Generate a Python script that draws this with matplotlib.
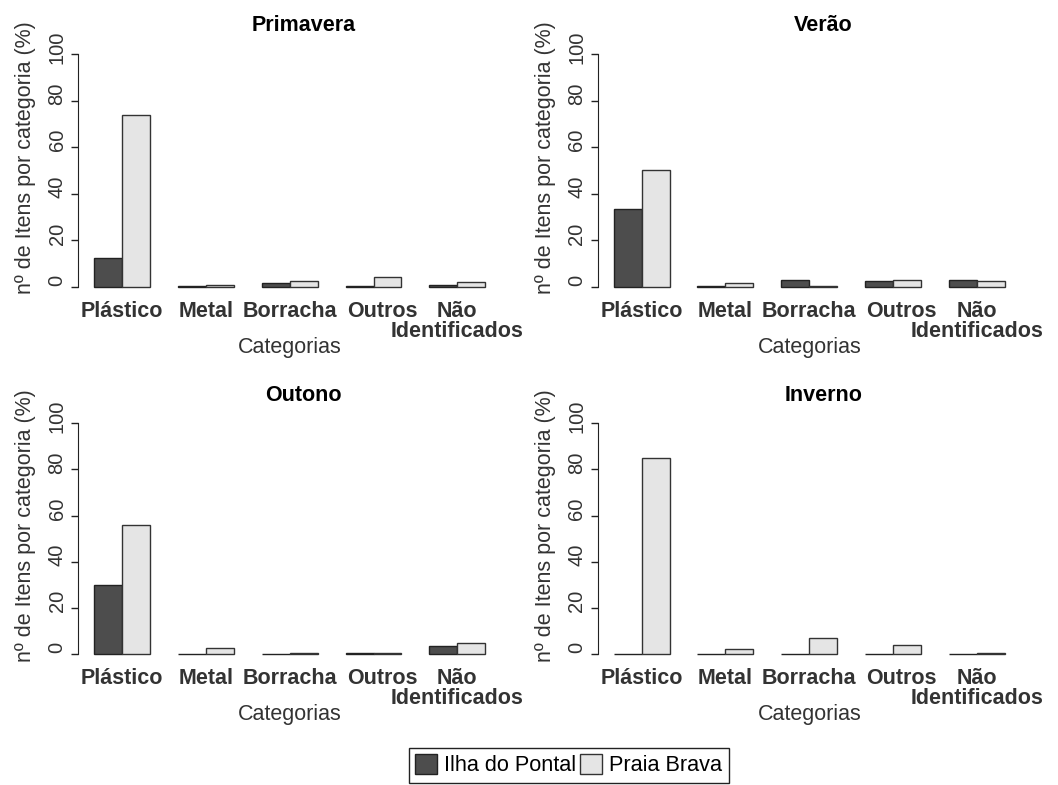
import matplotlib
matplotlib.use("Agg")
import matplotlib.pyplot as plt
import matplotlib.transforms as mtransforms
import numpy as np

plt.rcParams['font.family'] = ['Liberation Sans', 'DejaVu Sans']

categorias = ["Plástico", "Metal", "Borracha", "Outros", "Não\nIdentificados"]
estacoes = ["Primavera", "Verão", "Outono", "Inverno"]
# % de itens por categoria
ilha_primavera = [12.3, 0.3, 1.9, 0.3, 0.7]
brava_primavera = [73.7, 0.7, 2.7, 4.4, 2.2]
ilha_verao = [33.3, 0.6, 2.9, 2.4, 2.9]
brava_verao = [50.4, 1.7, 0.3, 2.9, 2.4]
ilha_outono = [29.9, 0.0, 0.0, 0.6, 3.5]
brava_outono = [56.0, 2.7, 0.7, 0.6, 4.8]
ilha_inverno = [0.0, 0.0, 0.0, 0.0, 0.0]
brava_inverno = [85.1, 2.2, 7.2, 4.0, 0.6]

ilha = [ilha_primavera, ilha_verao, ilha_outono, ilha_inverno]
brava = [brava_primavera, brava_verao, brava_outono, brava_inverno]

cor_ilha = "#4d4d4d"
cor_brava = "#e5e5e5"
fs = 15.5

fig = plt.figure(figsize=(10.58, 7.85), dpi=100)
posicoes = [[0.0741, 0.6225, 0.3994, 0.3205],
            [0.5652, 0.6225, 0.3994, 0.3205],
            [0.0741, 0.1548, 0.3994, 0.3178],
            [0.5652, 0.1548, 0.3994, 0.3178]]

# rotulos do eixo y ficam um pouco acima do tick, como no original
sobe = mtransforms.ScaledTranslation(0, 7 / 100, fig.dpi_scale_trans)
# "Outros" aparece um pouco deslocado para a direita no original
desloc_x = [0, 0, 0, 8.5, 0]

x = np.arange(len(categorias)) * 3 + 2  # centro de cada grupo (estilo barplot do R)
for k in range(4):
    ax = fig.add_axes(posicoes[k])
    b1 = ax.bar(x - 0.5, ilha[k], 1.0, color=cor_ilha, edgecolor="#222222", linewidth=1.0,
                label="Ilha do Pontal")
    b2 = ax.bar(x + 0.5, brava[k], 1.0, color=cor_brava, edgecolor="#333333", linewidth=1.0,
                label="Praia Brava")
    ax.set_xlim(0.44, 15.56)
    ax.set_ylim(-4, 104)
    for s in ["top", "right", "bottom"]:
        ax.spines[s].set_visible(False)
    ax.spines["left"].set_bounds(0, 100)
    ax.spines["left"].set_color("#222222")
    ax.set_yticks([0, 20, 40, 60, 80, 100])
    ax.tick_params(axis="y", length=5, width=1, pad=3.5, labelsize=14.5, labelrotation=90,
                   color="#222222", labelcolor="#333333")
    for t in ax.get_yticklabels():
        t.set_va("center")
        t.set_transform(t.get_transform() + sobe)
    ax.set_xticks(x)
    ax.set_xticklabels(categorias, fontweight="bold", fontsize=fs, color="#333333")
    ax.tick_params(axis="x", length=0, pad=3)
    for t, dx in zip(ax.get_xticklabels(), desloc_x):
        t.set_linespacing(0.95)
        t.set_transform(t.get_transform() +
                        mtransforms.ScaledTranslation(dx / 100, 0, fig.dpi_scale_trans))
    ax.text(0.533, 1.076, estacoes[k], transform=ax.transAxes, ha="center", va="center",
            fontweight="bold", fontsize=fs)
    ax.text(-0.125, 0.553, "nº de Itens por categoria (%)", transform=ax.transAxes,
            rotation=90, ha="center", va="center", fontsize=fs, color="#333333")
    ax.text(0.5, -0.205, "Categorias", transform=ax.transAxes, ha="center", va="center",
            fontsize=fs, color="#333333")

fig.legend(handles=[b1, b2], loc="upper center", bbox_to_anchor=(0.5375, 0.0475), ncol=2,
           fontsize=15.6, frameon=True, fancybox=False, edgecolor="#222222", framealpha=1,
           handlelength=1.0, handleheight=1.0, handletextpad=0.35, columnspacing=0.15,
           borderpad=0.3, borderaxespad=0)

fig.savefig("out.png", dpi=100, facecolor="white")
